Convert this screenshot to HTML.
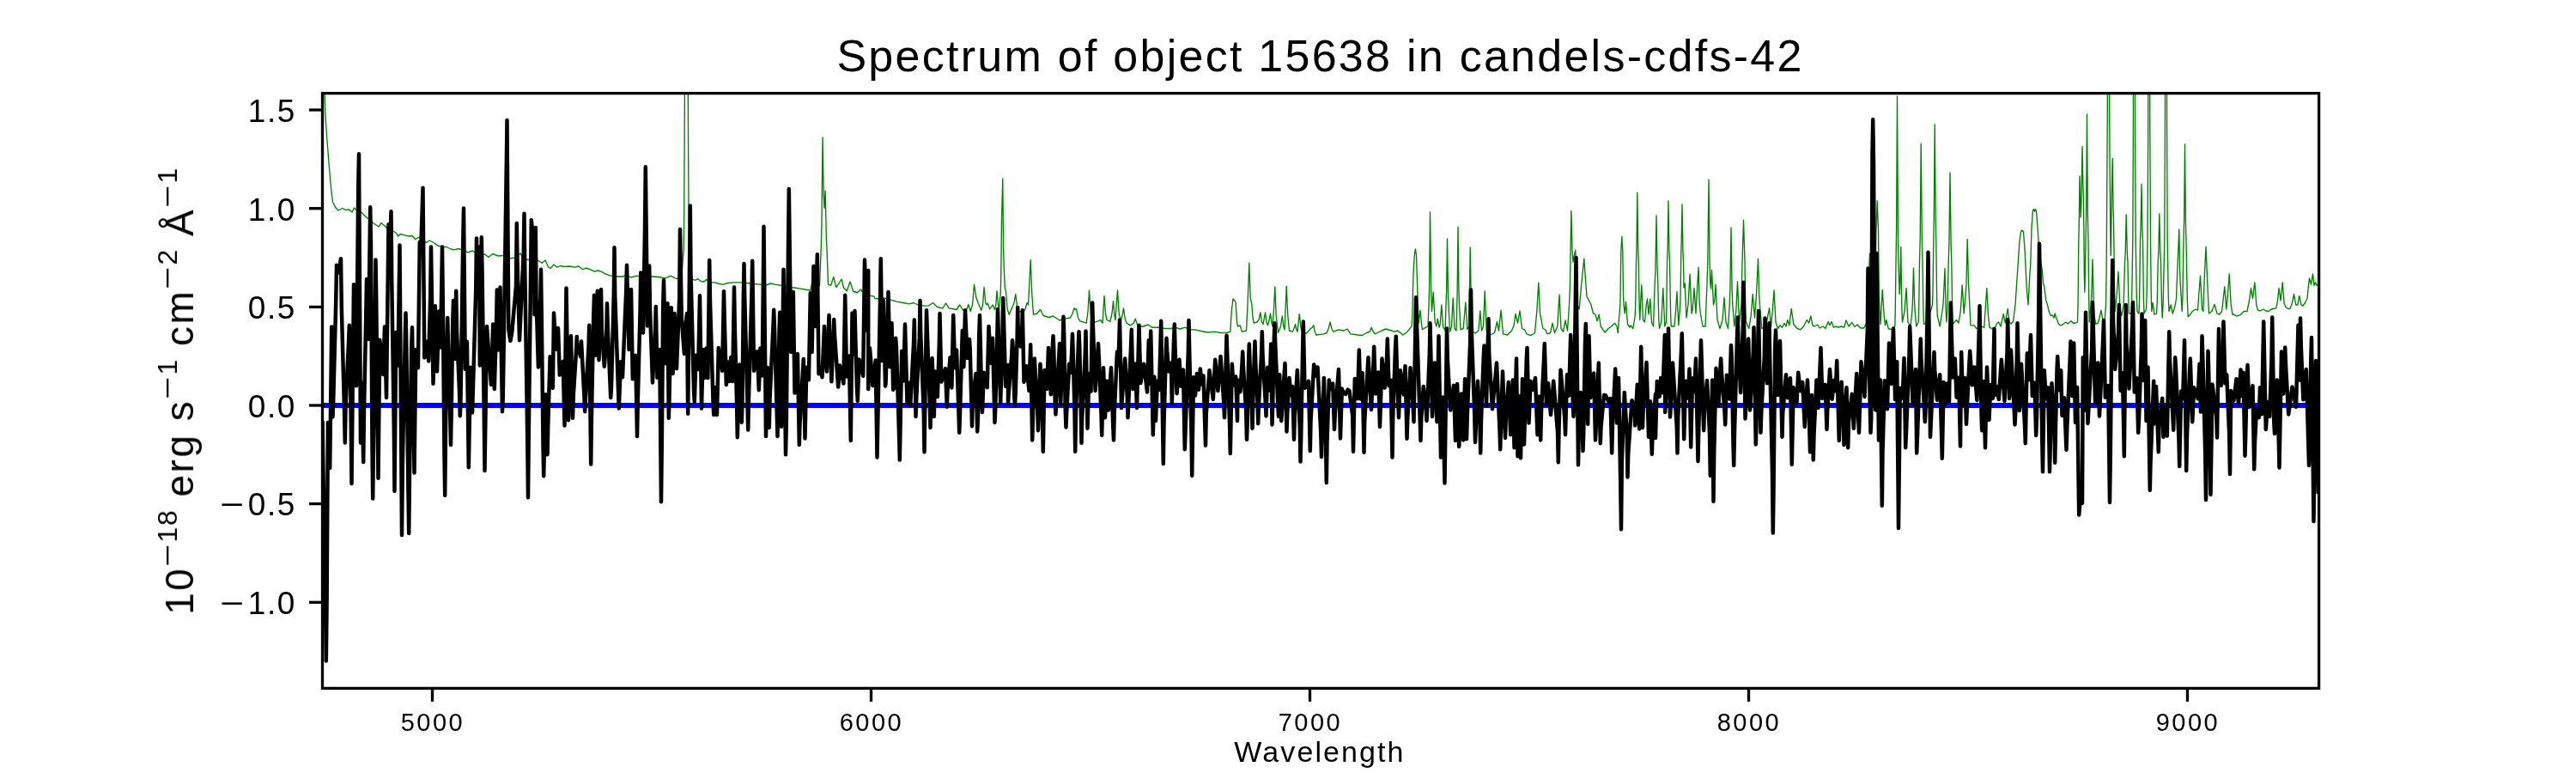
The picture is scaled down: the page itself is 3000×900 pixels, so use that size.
<!DOCTYPE html><html><head><meta charset="utf-8"><title>Spectrum of object 15638 in candels-cdfs-42</title><style>
html,body{margin:0;padding:0;background:#fff}
body{width:3000px;height:900px;position:relative;overflow:hidden;font-family:"Liberation Sans",sans-serif;color:#000}
.t{position:absolute;white-space:nowrap;line-height:1;will-change:transform}
.xt{font-size:29px;top:827px;width:200px;text-align:center;letter-spacing:2.5px}
.yt{font-size:37px;width:200px;text-align:right;letter-spacing:1.6px}
.mn{display:inline-block;width:32.5px;text-align:left;letter-spacing:0}
.mn i{display:inline-block;font-style:normal;transform:scaleX(1.3);transform-origin:0 50%}
#title{font-size:52px;left:0;width:3075px;text-align:center;top:39.4px;letter-spacing:2.26px}
#xl{font-size:34px;left:1337px;width:400px;text-align:center;top:857.5px;letter-spacing:2.1px}
#yl{font-size:46px;left:208.5px;top:454.5px;transform:translate(-50%,-50%) rotate(-90deg);transform-origin:50% 50%;letter-spacing:2.5px;word-spacing:-1px}
#yl sup{font-size:32px;vertical-align:baseline;position:relative;top:-19px;letter-spacing:1.5px}
#yl sup i{display:inline-block;font-style:normal;transform:scaleX(1.4);transform-origin:0 50%;margin-right:8px}

</style></head><body>
<svg width="3000" height="900" viewBox="0 0 3000 900" style="position:absolute;left:0;top:0">
<defs><clipPath id="c"><rect x="375.5" y="108.6" width="2325.1" height="692.8"/></clipPath></defs>
<g clip-path="url(#c)" fill="none" stroke-linejoin="round" stroke-linecap="butt">
<polyline points="378.0,103.0 378.8,133.0 380.5,158.0 382.5,183.0 384.5,208.0 386.2,225.5 387.5,235.0 390.5,241.2 393.8,245.0 398.8,242.5 402.5,244.5 406.2,243.8 410.0,247.0 412.5,242.0 416.2,245.5 421.2,247.5 426.2,252.5 431.2,256.2 435.0,260.0 438.8,262.5 441.2,263.8 443.8,259.5 447.5,262.5 451.2,266.2 457.5,268.8 461.2,271.2 463.8,275.0 466.2,272.5 471.2,273.8 476.2,275.0 480.0,274.5 483.8,278.8 487.5,276.2 492.5,278.8 496.2,282.5 500.0,280.0 505.0,282.5 510.0,286.2 515.0,287.5 520.0,287.5 525.0,290.0 528.8,290.8 533.8,289.5 538.8,291.2 545.0,293.8 550.0,292.0 555.0,295.0 561.2,295.5 565.0,296.2 568.8,299.5 573.8,295.5 580.0,298.0 586.2,297.5 592.5,301.2 600.0,300.0 606.2,295.0 608.8,301.2 615.0,302.5 621.2,301.2 627.5,303.8 631.2,306.2 635.0,303.0 638.8,311.2 641.2,312.5 645.0,308.0 648.8,311.2 652.5,309.5 657.5,310.5 663.8,310.0 668.8,311.2 673.8,310.0 678.8,313.8 682.5,312.0 687.5,313.8 692.5,316.2 696.2,315.0 700.0,316.2 705.0,318.8 711.2,321.2 717.5,322.0 725.0,322.0 730.0,320.5 735.0,323.0 741.2,321.2 747.5,322.5 755.0,322.0 762.5,322.0 770.0,323.0 775.0,323.8 781.2,321.2 787.5,324.5 793.8,323.8 796.2,290.0 796.7,250.0 797.5,90.0 801.2,90.0 802.0,250.0 802.5,290.0 803.8,325.0 810.0,326.2 812.5,324.5 816.2,327.5 820.0,328.0 822.5,325.5 827.5,328.8 832.5,328.8 837.5,330.5 842.5,331.2 847.5,329.5 855.0,328.8 862.5,328.8 870.0,329.5 877.5,330.5 885.0,331.2 892.5,332.0 897.5,330.0 902.5,331.2 910.0,332.5 917.5,334.5 925.0,335.0 932.5,336.2 940.0,337.5 943.8,338.0 946.2,327.5 948.8,315.0 951.2,325.0 954.5,332.5 956.2,290.0 956.9,264.0 958.0,160.0 959.2,226.0 960.0,242.5 961.2,222.0 962.3,276.4 963.0,290.0 964.5,331.2 967.5,332.5 970.8,322.5 973.8,334.5 976.2,331.2 980.0,325.0 982.5,335.0 986.2,338.8 990.0,328.0 993.8,339.5 998.8,340.5 1002.5,337.0 1006.2,342.5 1011.2,343.8 1017.5,345.0 1019.0,347.5 1026.5,348.0 1030.2,347.0 1036.5,348.8 1044.0,351.2 1051.5,352.5 1059.0,353.8 1064.0,352.5 1069.0,355.0 1076.5,356.2 1081.5,355.8 1086.5,352.5 1091.5,357.5 1097.8,358.8 1101.5,353.0 1105.2,358.8 1114.0,360.5 1117.8,355.0 1121.5,361.2 1125.2,362.0 1127.8,354.5 1130.2,362.5 1132.5,355.0 1134.5,331.2 1136.5,345.0 1139.0,352.5 1142.8,361.2 1144.5,355.0 1146.0,334.5 1147.8,352.5 1149.0,355.0 1150.2,353.0 1152.8,360.0 1156.0,355.0 1158.5,360.5 1159.8,355.0 1161.0,338.8 1162.5,355.0 1163.5,360.0 1165.2,342.5 1165.7,325.0 1166.5,255.0 1167.8,208.0 1168.5,285.6 1169.0,305.0 1170.2,333.8 1171.5,340.0 1173.2,360.0 1175.2,366.2 1179.0,357.5 1181.0,352.5 1182.8,342.5 1184.5,357.5 1186.0,362.5 1191.5,363.8 1194.0,360.0 1196.0,352.5 1197.5,355.0 1198.8,330.0 1200.2,302.5 1201.8,342.5 1203.5,366.2 1207.8,365.0 1211.5,360.5 1215.2,367.5 1221.5,369.5 1226.5,368.0 1234.0,373.0 1239.0,371.2 1246.5,370.0 1249.0,365.0 1251.0,358.8 1252.2,360.5 1253.5,359.5 1255.5,370.0 1257.8,373.8 1265.2,376.2 1267.0,362.5 1268.5,338.0 1270.2,365.0 1271.5,376.2 1279.0,373.8 1281.5,372.5 1284.0,376.2 1285.0,360.0 1286.0,344.5 1287.5,365.0 1289.0,372.5 1292.8,374.5 1295.0,365.0 1296.5,350.5 1298.0,367.5 1299.0,372.5 1300.2,355.0 1301.5,338.0 1303.2,365.0 1305.2,373.8 1307.0,367.5 1308.5,358.8 1310.2,371.2 1312.0,376.2 1316.5,378.8 1320.2,376.2 1322.2,371.2 1325.2,380.0 1331.5,380.0 1337.0,378.0 1341.5,381.2 1349.0,381.2 1356.5,382.5 1364.0,382.5 1369.0,381.2 1374.0,383.0 1380.2,381.2 1385.2,383.8 1391.5,383.8 1399.0,385.5 1406.5,387.0 1414.0,386.2 1421.5,387.5 1429.0,387.5 1432.8,386.2 1434.2,362.5 1436.0,348.0 1437.5,350.0 1439.0,351.2 1440.5,375.0 1441.5,380.0 1444.0,378.8 1446.5,386.2 1451.5,385.0 1453.0,355.0 1454.8,306.2 1456.2,347.5 1457.8,353.8 1459.0,370.0 1460.2,376.2 1464.0,375.0 1466.0,372.5 1467.8,363.8 1469.5,375.0 1471.0,377.5 1472.2,371.2 1473.5,363.8 1475.0,375.0 1476.5,378.8 1478.2,372.5 1479.5,365.0 1481.0,376.2 1482.0,380.0 1483.5,360.0 1484.8,333.8 1486.2,367.5 1488.5,387.5 1491.5,380.0 1493.2,368.0 1494.8,380.0 1496.0,383.8 1497.0,362.5 1498.2,333.2 1499.8,367.5 1501.5,385.0 1505.2,386.2 1507.0,382.5 1508.5,377.5 1509.8,383.8 1511.0,386.2 1512.0,377.5 1513.2,365.5 1514.8,380.0 1516.5,387.5 1521.5,388.0 1526.5,382.5 1528.2,381.2 1529.8,378.8 1531.2,386.2 1532.8,390.0 1541.5,388.8 1545.2,387.5 1547.2,382.5 1549.0,375.0 1550.8,382.5 1552.8,386.2 1559.0,383.8 1565.2,385.0 1569.0,383.0 1572.8,388.8 1581.5,390.0 1586.5,390.5 1591.5,387.5 1595.2,386.2 1597.2,381.2 1599.2,386.2 1601.5,388.8 1609.0,385.0 1614.0,383.0 1619.0,384.5 1624.0,386.2 1627.8,385.0 1634.0,390.0 1639.0,386.2 1644.0,380.0 1644.8,367.5 1646.0,317.5 1647.5,295.0 1648.5,290.0 1649.5,297.5 1651.0,345.0 1652.2,376.2 1654.0,361.2 1655.5,377.5 1656.5,383.8 1660.2,381.2 1663.0,380.0 1664.0,355.0 1664.6,333.4 1665.5,246.8 1666.7,339.4 1667.5,362.5 1669.2,340.0 1671.2,375.0 1673.0,380.0 1674.2,371.2 1676.0,381.2 1677.2,377.5 1678.8,355.0 1680.5,380.0 1683.0,385.0 1684.0,355.0 1684.6,339.6 1685.5,278.0 1686.4,339.6 1687.0,355.0 1688.5,386.2 1690.5,380.0 1692.2,347.0 1694.0,382.5 1696.0,385.0 1696.8,355.0 1697.2,336.9 1698.0,264.2 1698.9,336.9 1699.5,355.0 1701.0,383.8 1704.2,382.5 1706.8,352.0 1708.8,383.8 1710.5,380.0 1711.2,342.5 1711.6,331.6 1712.2,288.0 1712.9,331.6 1713.2,342.5 1714.2,385.0 1718.0,388.0 1721.8,385.0 1723.8,362.0 1725.5,385.0 1727.5,380.0 1729.2,338.8 1731.2,385.0 1735.5,390.0 1740.5,387.5 1743.5,374.5 1745.5,385.0 1748.0,361.2 1750.5,388.8 1755.5,390.0 1760.5,385.0 1763.0,378.8 1765.0,365.5 1767.5,376.2 1770.0,362.0 1772.5,382.5 1775.5,383.8 1778.0,388.8 1783.0,390.5 1787.5,387.5 1789.8,362.5 1791.8,329.2 1793.5,365.0 1794.8,371.2 1796.8,382.5 1799.8,383.8 1801.8,388.8 1805.5,387.5 1808.0,376.2 1810.5,387.5 1813.8,380.0 1816.0,343.2 1818.0,382.5 1820.5,386.2 1823.0,373.0 1825.5,385.0 1827.5,355.0 1828.4,333.1 1829.8,245.5 1831.1,293.1 1832.0,305.0 1833.0,298.8 1834.8,291.2 1836.0,342.2 1836.8,355.0 1839.2,360.0 1841.8,330.0 1844.8,301.2 1846.8,330.0 1848.0,345.0 1850.5,350.0 1853.0,355.0 1855.5,365.0 1858.0,366.2 1860.0,373.8 1862.2,366.2 1864.2,380.0 1866.8,383.8 1869.2,387.0 1873.0,382.5 1876.8,380.0 1880.5,376.2 1883.0,380.0 1884.2,387.5 1886.8,355.0 1887.1,342.5 1887.8,292.5 1888.8,275.5 1889.8,292.5 1890.5,342.5 1891.0,355.0 1892.2,365.0 1893.5,351.2 1895.5,377.5 1898.0,381.2 1899.2,378.8 1901.8,382.5 1904.2,367.5 1904.7,355.0 1905.5,305.0 1906.0,288.9 1906.8,224.2 1907.7,288.9 1908.2,305.0 1909.2,359.0 1909.8,372.5 1910.5,355.0 1911.8,331.8 1913.5,372.5 1915.5,375.0 1917.2,355.0 1918.5,348.0 1920.0,366.2 1921.8,348.0 1923.5,375.0 1925.5,380.0 1927.2,330.0 1927.9,314.2 1929.0,251.0 1930.1,314.2 1930.8,330.0 1931.8,372.0 1932.5,382.5 1934.8,375.0 1936.8,335.5 1938.8,380.0 1940.5,375.0 1940.9,361.0 1941.5,305.0 1942.1,290.8 1943.0,233.8 1943.9,290.8 1944.5,305.0 1945.6,365.0 1946.2,380.0 1950.0,380.0 1951.5,362.5 1953.0,339.5 1954.8,378.8 1956.8,355.0 1957.1,342.5 1957.8,292.5 1958.2,281.6 1959.0,238.0 1959.9,291.6 1960.5,305.0 1961.0,335.0 1962.2,330.0 1964.0,370.0 1966.0,355.0 1968.0,319.2 1970.0,365.0 1971.2,360.0 1973.0,335.5 1975.0,365.0 1976.2,342.5 1978.0,311.2 1979.2,352.2 1980.0,362.5 1983.0,380.0 1986.0,380.0 1988.0,330.0 1988.8,305.9 1990.0,209.2 1991.1,305.9 1991.8,330.0 1992.5,336.2 1993.5,314.5 1995.5,355.0 1996.8,350.0 1998.0,331.2 2000.0,372.5 2003.0,382.5 2006.0,372.5 2008.0,346.2 2010.0,375.0 2012.5,382.5 2014.2,355.0 2014.9,337.0 2016.0,265.0 2017.1,337.0 2017.8,355.0 2019.8,380.0 2021.8,362.5 2023.5,328.0 2025.5,375.0 2028.0,355.0 2029.0,305.0 2030.5,256.2 2032.0,305.0 2032.9,361.0 2033.5,375.0 2036.8,382.5 2039.2,367.5 2041.2,342.5 2043.5,370.0 2045.5,342.5 2047.5,301.2 2048.7,344.2 2049.5,355.0 2051.8,382.5 2056.8,380.0 2058.8,367.5 2060.5,358.8 2062.5,380.0 2064.2,362.5 2066.0,338.0 2068.0,375.0 2070.5,382.5 2073.0,378.8 2075.5,381.2 2078.0,376.2 2080.0,380.0 2081.8,372.5 2083.8,378.8 2086.2,359.5 2088.8,377.5 2093.0,382.5 2096.8,383.8 2100.5,380.0 2104.2,372.5 2106.8,376.2 2108.8,368.0 2111.0,378.8 2113.0,380.0 2116.8,378.0 2119.2,382.0 2123.0,380.0 2126.0,382.5 2129.2,374.5 2131.0,378.8 2133.0,374.5 2135.5,381.2 2138.0,380.0 2141.0,381.2 2144.2,380.0 2147.5,381.2 2150.0,373.0 2153.0,380.0 2156.8,375.5 2160.0,380.5 2163.0,378.0 2166.8,382.0 2170.5,382.0 2174.2,375.0 2176.0,330.0 2177.5,295.0 2179.2,342.5 2181.8,375.0 2183.8,330.0 2184.2,317.5 2185.0,267.5 2186.2,233.8 2187.5,267.5 2188.3,337.5 2188.8,355.0 2190.0,377.5 2192.2,337.5 2194.2,367.5 2195.5,378.8 2196.8,372.5 2199.2,382.5 2203.0,383.8 2206.8,380.0 2207.2,365.0 2208.0,305.0 2208.6,266.4 2209.5,112.0 2210.4,266.4 2211.0,305.0 2212.2,342.5 2212.8,331.5 2213.8,287.5 2214.8,357.5 2215.5,375.0 2218.0,362.5 2220.0,335.5 2222.0,375.0 2225.0,380.0 2226.8,362.5 2227.4,352.4 2228.5,312.0 2229.6,352.4 2230.2,362.5 2231.8,380.0 2234.2,375.0 2234.7,361.0 2235.5,305.0 2236.2,277.4 2237.2,167.2 2238.3,277.4 2239.0,305.0 2239.9,363.0 2240.5,377.5 2244.2,375.0 2250.5,355.0 2251.0,340.0 2251.8,280.0 2252.3,252.9 2253.2,144.8 2254.2,252.9 2254.8,280.0 2255.7,350.0 2256.2,367.5 2259.2,380.0 2263.0,355.0 2265.0,312.5 2266.2,362.5 2267.0,375.0 2267.9,361.0 2269.2,305.0 2269.9,284.2 2271.0,201.0 2272.1,284.2 2272.8,305.0 2273.7,363.0 2274.2,377.5 2276.0,375.0 2278.5,372.5 2281.0,376.2 2283.2,362.5 2285.2,332.0 2287.2,365.0 2289.2,342.5 2290.0,329.7 2291.2,278.5 2292.5,329.7 2293.2,342.5 2295.0,378.8 2299.2,378.8 2301.8,382.5 2307.0,380.0 2310.8,381.2 2312.0,362.5 2313.8,335.5 2315.5,367.5 2317.0,381.2 2319.5,382.5 2323.2,381.2 2325.8,376.2 2327.5,375.0 2330.0,380.0 2333.2,365.5 2335.2,376.2 2337.0,366.2 2338.2,359.5 2340.0,375.0 2342.0,377.0 2344.5,374.5 2347.0,355.0 2349.5,317.5 2352.0,280.0 2353.5,270.0 2355.0,268.0 2356.5,270.0 2358.2,292.5 2360.2,335.0 2362.0,355.0 2364.0,317.5 2364.8,307.0 2366.0,265.0 2367.5,245.0 2368.5,243.5 2369.5,246.2 2370.5,243.5 2371.5,246.2 2373.0,265.0 2375.0,295.0 2378.2,313.8 2379.5,330.0 2380.8,333.8 2382.8,350.0 2384.5,355.0 2386.5,363.8 2388.2,367.5 2390.2,367.0 2392.0,370.0 2393.2,365.0 2394.5,370.0 2395.8,372.5 2397.5,377.5 2399.5,378.8 2402.0,378.0 2405.8,375.0 2408.2,377.0 2412.0,373.8 2414.5,376.2 2417.0,376.2 2419.5,375.0 2420.0,356.0 2420.8,280.0 2421.2,265.0 2422.0,205.0 2423.2,253.0 2423.9,236.5 2425.0,170.5 2425.9,218.1 2426.5,230.0 2427.3,318.0 2427.8,340.0 2428.2,328.0 2429.0,280.0 2429.6,250.6 2430.5,133.0 2431.4,250.6 2432.0,280.0 2432.8,356.0 2433.2,375.0 2435.0,355.0 2435.8,344.4 2437.0,302.0 2438.2,354.4 2439.0,367.5 2440.8,377.5 2443.2,376.2 2445.0,370.0 2447.0,361.2 2448.8,372.5 2450.8,378.8 2452.5,355.0 2453.1,320.0 2454.0,180.0 2454.6,70.0 2455.5,-370.0 2456.4,70.0 2457.0,180.0 2457.8,274.0 2458.2,297.5 2458.6,284.0 2459.2,230.0 2460.2,184.2 2461.0,240.8 2461.5,255.0 2462.6,341.0 2463.2,362.5 2465.2,342.5 2467.0,316.2 2469.0,360.0 2470.8,367.5 2473.2,355.0 2474.5,305.0 2475.2,294.0 2476.2,250.0 2477.3,294.0 2478.0,305.0 2478.9,353.0 2479.5,365.0 2482.0,365.0 2482.7,348.0 2483.8,280.0 2484.4,150.0 2485.5,-370.0 2486.6,150.0 2487.2,280.0 2488.3,346.0 2489.0,362.5 2491.0,365.0 2491.6,348.0 2492.5,280.0 2493.1,266.9 2494.0,214.2 2494.9,266.9 2495.5,280.0 2496.4,348.0 2497.0,365.0 2499.5,360.0 2500.1,344.0 2501.0,280.0 2501.7,150.0 2502.8,-370.0 2503.8,150.0 2504.5,280.0 2505.3,346.0 2505.8,362.5 2507.0,352.5 2509.0,366.2 2511.5,365.0 2512.2,353.0 2513.2,305.0 2513.8,293.8 2514.8,248.8 2515.8,293.8 2516.5,305.0 2517.6,357.0 2518.2,370.0 2519.2,352.0 2520.8,280.0 2521.4,150.0 2522.5,-370.0 2523.6,150.0 2524.2,280.0 2525.3,346.0 2526.0,362.5 2528.2,355.0 2530.2,365.0 2532.0,360.0 2533.2,355.0 2534.5,347.5 2536.2,305.0 2537.8,266.8 2538.7,317.4 2539.2,330.0 2541.2,362.5 2541.9,346.0 2543.0,280.0 2543.6,257.6 2544.5,168.0 2545.4,257.6 2546.0,280.0 2547.4,351.0 2548.2,368.8 2550.8,366.2 2553.2,362.5 2557.0,360.0 2559.5,361.2 2560.8,342.5 2562.5,321.2 2564.5,360.0 2565.8,362.5 2567.5,317.5 2569.0,287.5 2570.8,330.0 2572.5,365.0 2575.8,362.5 2579.0,354.5 2582.0,365.0 2584.5,366.2 2587.5,362.5 2589.0,350.0 2590.8,333.8 2592.8,360.0 2594.5,342.5 2596.2,318.8 2598.2,355.0 2600.0,366.2 2602.0,366.2 2604.5,368.0 2607.0,367.5 2609.5,366.2 2613.2,362.5 2617.0,362.5 2619.5,350.0 2621.5,335.5 2623.5,347.5 2625.8,328.8 2627.8,355.0 2629.5,361.2 2632.0,362.0 2635.8,360.0 2639.0,362.0 2642.0,362.5 2644.5,360.5 2647.0,359.5 2650.8,358.8 2652.5,350.0 2654.0,335.5 2656.0,350.0 2658.2,328.8 2660.2,353.8 2662.0,357.5 2664.5,359.5 2667.0,359.5 2669.5,352.5 2671.5,342.5 2673.8,355.0 2675.8,355.0 2677.8,344.5 2680.0,355.0 2682.0,356.2 2684.5,352.5 2687.0,347.5 2688.2,335.0 2689.5,323.8 2691.5,331.2 2693.5,318.8 2695.0,332.5 2696.5,328.8 2698.2,332.5 2700.2,330.0" stroke="#008000" stroke-width="1.35"/>
<line x1="375.5" y1="472.0" x2="2700.6" y2="472.0" stroke="#0000ff" stroke-width="6"/>
<polyline points="375.5,490.0 379.1,710.8 379.8,769.5 380.6,699.9 381.9,491.9 382.6,518.0 384.2,545.0 386.2,380.5 387.5,485.5 388.2,467.2 391.2,351.7 392.0,308.8 394.5,317.5 397.0,301.2 397.8,357.9 401.0,477.5 401.8,515.5 402.5,474.8 406.0,398.6 406.8,378.8 407.5,394.1 408.8,495.1 409.5,563.0 412.0,331.2 412.8,379.5 415.0,449.2 417.2,220.7 418.0,179.2 420.0,515.5 421.6,445.5 423.2,538.0 424.0,476.9 426.2,370.3 427.0,325.0 429.1,395.0 431.2,241.2 432.0,284.6 433.5,522.6 434.2,580.5 435.0,514.9 436.8,367.3 437.5,302.5 438.2,347.5 439.8,499.7 440.5,556.8 442.3,395.7 446.2,436.1 448.0,380.5 450.0,463.0 452.5,261.2 454.0,290.0 455.5,246.2 456.2,323.3 458.8,499.4 459.5,571.8 461.2,387.0 463.4,425.4 465.5,285.5 468.0,623.0 468.8,543.0 471.8,391.7 472.5,364.5 473.2,395.6 475.5,574.3 476.2,621.0 477.0,551.0 479.2,403.4 480.0,381.2 482.5,550.5 484.3,407.0 486.9,428.2 488.8,282.0 490.2,290.0 492.5,218.8 494.3,416.5 497.4,397.8 499.2,420.5 501.2,344.0 502.0,287.5 504.5,446.8 506.8,356.2 509.0,432.5 511.2,362.5 513.1,404.6 515.0,287.5 515.8,352.7 517.5,530.2 518.2,576.8 519.0,499.6 520.5,403.1 521.2,370.0 522.0,403.0 524.2,481.5 525.0,518.0 525.8,474.7 527.2,376.8 528.0,350.0 529.6,417.8 531.2,338.8 532.0,385.5 535.0,454.8 535.8,484.2 536.5,463.7 539.2,283.7 540.0,242.5 541.8,429.8 543.9,398.1 545.8,544.2 547.9,427.8 550.0,480.5 550.8,456.3 554.2,337.6 555.0,277.5 555.8,347.1 557.0,346.9 557.8,297.5 558.2,287.5 558.8,425.5 560.8,276.2 561.5,314.0 563.8,485.8 564.5,548.0 567.0,380.0 567.8,391.3 572.0,448.0 574.2,377.5 575.8,453.0 578.0,379.3 578.8,337.5 580.6,407.5 582.5,334.5 585.0,479.2 585.8,461.5 589.8,192.6 590.5,140.0 592.3,383.5 594.4,396.9 596.2,387.5 601.0,333.0 601.8,260.0 602.5,303.8 605.0,396.2 609.8,292.9 610.5,248.8 611.2,309.5 614.2,509.2 615.0,579.2 615.8,504.0 618.0,324.8 618.8,256.2 621.2,280.0 621.9,270.0 622.5,366.2 623.8,265.0 624.5,345.1 626.9,427.5 629.2,355.6 630.0,313.8 630.8,370.0 632.5,517.7 633.2,554.2 635.4,459.2 637.5,529.2 638.2,497.4 640.6,415.3 643.8,451.8 645.0,364.5 647.5,406.7 650.0,382.0 651.8,436.6 655.7,420.9 657.5,495.5 659.5,335.5 662.0,489.2 662.8,465.4 664.2,404.7 665.0,391.2 667.0,486.8 667.8,460.7 671.0,409.1 671.8,392.0 672.5,407.8 674.4,408.2 676.2,415.3 677.0,397.5 677.8,412.3 680.5,463.2 681.2,479.2 682.0,462.3 685.5,404.1 686.2,378.8 688.2,540.5 689.0,482.5 691.2,369.9 692.0,343.8 693.9,413.8 695.8,338.8 697.5,419.2 700.0,337.0 700.8,382.6 703.8,426.8 706.2,391.8 707.0,353.2 707.8,382.3 710.5,446.7 711.2,463.0 712.0,451.0 714.8,344.2 715.5,288.2 716.2,342.8 720.0,453.6 720.8,475.5 722.9,421.3 725.0,439.2 729.2,339.2 730.0,308.8 732.5,407.0 735.0,337.0 736.8,441.3 740.2,413.8 742.0,508.0 742.8,466.7 745.5,363.7 746.2,317.5 747.0,359.7 749.0,387.5 751.0,267.8 751.8,194.2 754.0,379.5 756.2,309.5 757.0,360.7 760.0,445.4 763.0,386.8 763.8,357.0 765.5,439.8 768.2,406.9 770.0,584.2 770.8,515.7 772.2,355.3 773.0,326.2 775.2,423.2 777.5,353.2 778.8,486.8 779.5,463.9 781.0,385.1 781.8,358.2 783.6,435.0 785.5,365.0 788.0,429.2 791.2,347.6 792.0,267.0 793.8,371.0 796.9,411.9 798.8,375.0 800.0,365.0 801.2,481.8 803.8,239.5 804.5,318.6 808.0,453.2 808.8,468.0 810.5,413.7 813.2,430.1 815.0,344.2 817.0,475.5 818.8,407.1 820.7,440.0 822.6,405.5 824.4,440.1 826.2,303.0 827.0,352.1 830.5,467.2 831.2,483.0 833.1,451.2 835.0,483.0 836.8,405.0 841.2,431.7 843.0,339.2 843.8,373.3 845.8,448.0 847.5,421.6 849.4,444.0 851.3,415.9 853.2,444.0 855.0,334.5 855.8,381.2 858.0,467.5 858.8,509.2 861.2,424.6 863.8,491.8 864.5,467.3 865.8,349.3 866.5,307.0 867.2,344.7 870.5,468.9 871.2,500.5 872.0,462.3 875.5,339.2 876.2,303.8 878.0,431.7 881.9,409.2 883.8,454.2 885.5,405.5 887.7,437.6 889.5,263.8 892.0,508.0 893.9,428.0 895.8,498.0 896.5,465.3 900.5,378.9 901.2,360.8 902.0,382.5 904.8,483.4 905.5,508.0 906.2,472.7 907.5,386.9 908.2,363.8 910.0,496.8 912.5,313.8 915.0,529.2 915.8,494.3 918.0,285.4 918.8,220.0 921.2,410.0 923.8,340.0 925.5,457.5 928.9,412.1 930.8,518.0 931.5,493.9 935.8,418.0 937.5,510.5 939.3,427.8 941.9,442.2 943.8,341.2 945.6,409.9 947.5,310.0 949.6,380.0 951.8,296.2 953.5,435.2 955.7,427.6 957.5,439.2 960.0,380.0 960.8,405.7 962.8,432.6 964.8,384.9 965.5,367.0 966.2,392.2 968.4,444.3 970.5,391.0 971.2,372.0 972.0,390.1 976.2,450.5 978.0,425.6 982.4,446.5 984.2,343.8 986.0,438.4 988.9,414.6 990.8,513.0 992.5,364.5 994.0,412.5 995.5,362.0 996.2,390.8 998.0,453.2 998.8,466.8 1000.5,418.4 1005.2,437.7 1007.0,302.5 1009.1,385.0 1011.2,315.0 1011.2,453.0 1013.0,405.3 1016.4,449.0 1019.7,419.6 1021.5,532.5 1022.2,495.4 1025.0,350.1 1025.8,301.2 1027.4,420.0 1029.0,350.0 1031.0,449.5 1031.2,416.9 1031.5,447.5 1033.8,377.9 1034.5,340.0 1036.5,427.2 1038.5,376.2 1040.2,453.8 1040.6,442.5 1041.0,452.5 1043.2,393.8 1044.0,405.8 1047.0,504.4 1047.8,535.5 1050.2,408.8 1052.1,443.5 1054.0,377.5 1056.5,470.0 1060.2,445.0 1060.2,472.5 1061.0,456.9 1064.0,400.8 1064.8,372.5 1066.5,485.0 1067.2,465.0 1070.8,393.9 1071.5,350.0 1072.2,387.6 1075.8,480.9 1076.5,526.2 1079.0,361.2 1079.8,385.5 1082.8,469.3 1083.5,498.0 1085.6,417.1 1087.8,485.0 1089.0,432.5 1091.8,462.1 1093.8,401.0 1094.5,365.0 1096.3,444.5 1101.0,429.1 1102.8,473.8 1103.5,454.6 1106.5,416.2 1108.4,451.4 1110.2,367.0 1112.1,428.3 1114.0,407.5 1116.5,480.8 1117.2,503.8 1118.0,480.8 1120.0,412.8 1120.8,385.0 1122.4,427.3 1124.0,361.2 1126.5,416.8 1129.0,395.0 1129.8,408.7 1131.2,464.2 1132.0,496.2 1132.8,466.1 1136.5,435.0 1138.2,502.5 1139.0,483.9 1140.2,390.0 1141.0,367.0 1141.8,400.4 1143.2,466.4 1144.0,480.0 1145.8,433.8 1149.7,451.1 1151.5,380.0 1153.8,422.8 1156.0,393.8 1158.5,492.0 1159.2,476.3 1161.2,398.2 1162.0,360.0 1162.8,388.8 1165.2,468.8 1167.5,390.7 1168.2,347.0 1169.0,372.8 1171.1,449.7 1174.0,425.0 1174.0,470.0 1174.8,456.7 1178.2,413.6 1179.0,396.2 1179.8,406.0 1181.2,460.5 1182.0,472.5 1182.8,454.9 1184.5,398.0 1185.2,358.0 1186.0,399.3 1187.2,397.4 1188.0,382.5 1188.8,403.5 1190.0,396.8 1190.8,361.2 1192.5,444.7 1195.5,426.2 1198.5,455.1 1200.2,401.2 1202.2,512.5 1204.8,417.5 1208.2,477.5 1209.0,501.2 1211.5,423.8 1214.0,487.6 1214.8,525.8 1216.5,430.9 1219.2,452.8 1221.0,405.0 1221.8,416.1 1223.8,459.3 1225.8,404.3 1226.5,391.2 1227.2,404.8 1228.8,471.0 1229.5,482.5 1230.2,464.3 1233.2,415.8 1234.0,400.0 1235.2,471.2 1237.8,398.6 1238.5,368.8 1239.2,389.6 1240.8,479.9 1241.5,497.5 1242.2,479.6 1245.2,423.8 1247.1,433.8 1249.0,388.8 1249.8,414.7 1251.5,479.4 1252.2,525.8 1253.0,481.0 1255.8,401.6 1256.5,386.2 1257.2,401.1 1258.8,475.3 1259.5,515.8 1260.2,486.4 1263.8,411.6 1264.5,385.5 1266.5,498.8 1268.3,434.9 1270.5,455.8 1272.2,352.5 1273.0,382.9 1275.6,454.9 1278.2,415.8 1279.0,400.0 1279.8,416.4 1282.5,481.9 1283.2,506.8 1285.1,428.3 1287.0,486.2 1289.0,443.8 1291.0,477.5 1291.8,462.1 1294.0,428.2 1296.2,494.5 1297.0,512.5 1297.8,479.9 1301.0,409.5 1302.5,425.4 1304.0,372.5 1306.0,475.0 1310.2,417.5 1312.8,462.6 1313.5,486.2 1314.2,472.0 1317.0,405.1 1317.8,383.8 1319.5,452.9 1322.2,423.5 1324.0,475.0 1326.5,378.8 1328.3,446.0 1332.1,423.7 1336.0,456.5 1337.8,396.2 1339.0,446.8 1340.2,385.5 1342.8,506.2 1344.4,438.7 1346.0,490.0 1347.8,443.8 1350.0,453.8 1352.2,373.8 1354.8,540.0 1355.5,493.9 1357.8,411.8 1358.5,393.8 1359.2,408.7 1361.2,432.5 1364.0,422.5 1364.8,470.0 1367.0,397.2 1367.8,377.5 1368.5,404.1 1370.6,458.2 1373.5,418.8 1375.3,449.7 1378.0,430.5 1379.8,523.2 1380.5,503.2 1383.8,410.7 1384.5,373.0 1385.2,408.7 1387.5,504.2 1388.2,553.8 1390.0,439.3 1392.0,460.4 1394.0,434.9 1396.0,453.7 1397.8,429.5 1399.6,447.5 1401.5,437.5 1404.0,518.8 1404.8,480.9 1408.5,431.2 1412.8,465.0 1415.2,418.8 1418.4,455.1 1421.5,415.0 1425.2,467.4 1426.0,486.2 1428.5,390.8 1429.2,410.7 1432.0,492.1 1432.8,528.0 1434.8,423.8 1436.5,448.4 1439.2,438.5 1441.0,490.0 1441.5,442.5 1444.4,456.2 1446.5,423.6 1447.2,409.5 1448.0,428.6 1451.2,478.5 1452.0,511.8 1452.8,489.6 1454.0,423.3 1454.8,400.5 1455.5,421.1 1457.8,472.0 1458.5,498.8 1459.2,471.3 1460.8,414.3 1461.5,397.5 1462.2,421.0 1464.5,467.3 1465.2,493.2 1466.0,470.1 1469.0,413.3 1469.8,386.2 1470.5,413.2 1473.8,468.7 1474.5,484.5 1476.3,427.8 1478.5,454.4 1480.2,400.5 1481.5,494.5 1482.2,470.3 1483.8,394.5 1484.5,376.2 1485.2,400.0 1488.2,469.1 1489.0,485.0 1490.2,436.2 1492.2,490.0 1493.0,478.6 1496.5,423.0 1498.5,502.5 1499.2,482.2 1501.5,440.0 1503.4,460.0 1505.2,450.0 1507.0,511.8 1507.8,483.1 1510.8,431.1 1513.8,498.2 1514.5,537.5 1515.2,508.7 1517.0,413.3 1517.8,374.5 1519.5,451.8 1524.0,443.9 1525.8,525.0 1526.5,490.0 1530.2,424.5 1532.4,437.5 1534.5,427.5 1538.2,503.1 1539.0,532.0 1539.8,495.1 1541.9,439.9 1544.0,514.6 1544.8,562.0 1545.5,515.8 1547.8,442.5 1549.5,453.4 1552.2,446.5 1554.0,500.0 1554.8,481.5 1559.0,430.0 1561.0,510.5 1562.8,452.5 1564.5,457.2 1567.1,459.0 1569.7,453.7 1571.5,455.0 1575.2,483.9 1576.0,525.8 1577.8,441.1 1581.0,464.3 1582.8,407.5 1584.5,464.4 1586.7,434.2 1588.5,526.8 1589.2,491.2 1593.5,416.2 1597.0,477.0 1599.5,423.2 1600.2,403.8 1602.0,458.4 1605.2,433.6 1607.0,497.0 1609.5,417.5 1612.6,451.5 1615.0,419.1 1615.8,394.5 1617.5,449.3 1619.7,442.6 1621.5,532.5 1622.2,485.5 1625.0,405.8 1625.8,391.8 1626.5,415.5 1628.2,467.5 1629.0,486.2 1630.8,431.2 1634.7,459.4 1636.5,426.2 1638.5,510.8 1639.2,489.1 1642.5,428.2 1645.8,474.7 1646.5,491.2 1649.0,346.2 1649.8,372.8 1653.8,491.9 1654.5,513.0 1655.2,488.2 1657.8,450.0 1660.8,477.4 1661.5,490.0 1662.2,475.3 1664.8,412.9 1665.5,376.2 1668.0,485.0 1668.8,469.1 1670.8,422.5 1672.8,472.9 1673.5,491.2 1675.5,391.2 1678.0,532.5 1680.2,462.5 1682.5,562.5 1685.0,382.5 1685.8,417.8 1689.2,477.5 1693.0,448.8 1695.0,513.0 1697.1,447.1 1699.2,520.0 1701.8,458.4 1704.2,512.5 1706.1,441.2 1708.0,511.2 1708.8,484.2 1712.2,397.6 1713.0,337.5 1713.8,385.9 1717.2,481.7 1718.0,515.0 1718.8,496.6 1721.0,443.8 1723.5,492.6 1724.2,527.5 1725.0,488.7 1727.8,414.4 1728.5,402.5 1731.0,472.5 1733.5,371.2 1734.2,412.0 1738.0,476.2 1743.0,422.5 1746.5,501.0 1747.2,523.2 1748.0,494.0 1750.0,432.5 1752.2,492.1 1753.0,510.0 1753.8,486.3 1756.8,445.0 1759.2,506.2 1761.8,442.5 1763.5,521.2 1766.0,417.5 1767.5,531.2 1769.2,461.2 1771.0,533.2 1773.0,441.2 1775.0,517.5 1775.8,488.7 1777.8,417.3 1778.5,405.0 1780.5,492.5 1782.5,443.8 1785.2,453.8 1788.0,440.0 1790.5,506.2 1792.4,461.8 1794.2,512.5 1795.0,479.1 1798.0,418.8 1798.8,400.0 1800.9,471.6 1803.0,446.2 1806.0,483.0 1809.2,443.8 1814.0,502.8 1814.8,538.2 1815.5,501.0 1817.5,430.8 1822.2,485.5 1823.0,506.2 1825.0,436.2 1827.1,460.8 1829.2,390.0 1830.0,409.5 1831.8,468.2 1832.5,485.0 1833.2,469.2 1834.8,349.3 1835.5,300.0 1838.0,541.2 1838.8,497.6 1840.8,456.9 1842.8,498.1 1843.5,525.0 1844.2,504.9 1846.0,399.4 1846.8,377.0 1849.2,493.8 1850.5,391.2 1852.3,463.1 1856.2,434.4 1858.0,512.5 1858.8,496.0 1861.8,422.5 1863.8,516.2 1864.5,497.1 1868.0,460.0 1869.8,460.2 1871.7,464.0 1873.6,467.9 1875.5,464.0 1877.2,527.5 1878.0,492.8 1881.2,429.5 1883.0,492.5 1885.0,440.0 1887.2,561.2 1888.0,616.2 1888.8,538.4 1891.8,457.0 1894.8,508.0 1895.5,555.5 1896.2,528.9 1900.5,466.2 1903.5,472.1 1904.2,495.5 1906.8,447.8 1909.2,499.5 1911.2,403.8 1913.0,498.0 1913.8,473.4 1917.5,422.0 1920.0,508.8 1921.9,467.3 1923.8,528.8 1924.5,508.0 1928.0,458.8 1928.0,510.0 1929.8,444.0 1932.5,461.9 1934.2,440.0 1936.5,457.3 1938.8,390.0 1939.2,480.0 1942.2,417.7 1943.0,382.5 1945.0,485.5 1945.8,472.0 1948.0,422.5 1952.8,497.3 1953.5,527.5 1954.2,485.8 1958.0,408.7 1958.8,388.2 1961.2,511.2 1963.0,443.7 1965.7,463.6 1967.5,429.5 1969.2,520.5 1971.0,440.2 1973.2,456.3 1975.0,417.5 1977.5,537.0 1978.2,502.6 1980.2,426.7 1981.0,396.2 1981.8,423.0 1983.5,483.1 1984.2,501.2 1985.0,475.9 1988.0,442.9 1991.0,504.9 1991.8,553.8 1994.2,442.5 1995.5,583.8 1996.2,528.2 1998.5,428.8 2001.4,472.6 2003.5,428.2 2004.2,417.5 2005.0,434.0 2008.5,479.0 2009.2,494.5 2011.0,436.7 2014.2,464.6 2016.0,402.0 2016.8,417.4 2018.5,517.2 2019.2,542.0 2020.0,503.8 2023.0,392.5 2023.8,369.5 2024.5,400.2 2027.1,457.1 2029.8,382.6 2030.5,328.8 2032.5,487.5 2033.2,472.5 2035.5,412.0 2036.2,394.5 2038.0,477.5 2041.8,409.6 2042.5,381.2 2044.8,517.5 2045.5,491.7 2047.2,404.1 2048.0,362.0 2050.5,503.8 2051.2,481.2 2054.8,415.5 2055.5,370.5 2058.0,446.2 2060.5,376.2 2061.2,417.9 2064.0,550.0 2064.8,620.5 2065.5,572.3 2067.2,404.6 2068.0,384.5 2070.5,460.0 2073.0,397.0 2075.5,508.8 2076.2,481.3 2080.0,436.2 2081.8,463.2 2085.0,440.2 2086.8,540.8 2088.6,451.1 2092.5,469.2 2094.2,433.8 2096.8,455.0 2099.2,445.0 2101.8,497.0 2102.5,477.1 2105.0,442.5 2107.2,494.9 2108.0,526.2 2109.9,460.0 2111.8,535.5 2112.5,506.6 2115.5,442.5 2117.5,475.0 2119.8,421.3 2120.5,405.0 2122.3,463.9 2125.7,447.9 2127.5,500.0 2128.2,478.6 2131.0,430.0 2133.6,464.7 2136.2,442.5 2137.8,455.2 2139.2,420.0 2141.8,513.0 2142.5,489.1 2144.6,444.7 2146.8,491.6 2147.5,518.0 2148.2,490.8 2150.5,451.2 2152.2,521.2 2153.0,490.2 2156.8,458.8 2158.8,498.8 2159.5,485.6 2162.2,435.0 2164.2,487.4 2165.0,503.8 2167.5,421.2 2171.5,461.9 2174.8,385.3 2175.5,312.5 2176.2,382.7 2177.8,473.9 2178.5,503.8 2179.2,488.5 2180.5,179.5 2181.2,139.2 2182.0,188.9 2183.5,464.1 2184.2,477.5 2185.5,295.0 2188.0,512.5 2189.9,442.5 2191.8,588.8 2192.5,526.5 2194.9,443.3 2198.0,476.2 2200.0,399.5 2202.5,446.9 2205.0,382.5 2207.1,465.2 2209.2,421.2 2211.0,615.0 2212.8,452.1 2215.7,463.4 2217.5,417.0 2219.2,521.2 2220.0,503.5 2223.5,412.0 2224.2,380.0 2225.0,401.1 2227.6,470.9 2231.0,430.0 2232.2,527.5 2233.0,507.3 2236.0,420.5 2236.8,394.5 2237.5,418.3 2241.0,474.2 2241.8,491.2 2242.5,477.2 2244.8,352.8 2245.5,293.8 2248.0,508.8 2248.8,491.3 2251.8,425.1 2252.5,410.0 2253.2,430.2 2255.9,465.7 2259.2,436.2 2261.8,533.8 2263.6,444.9 2265.7,469.6 2267.8,446.6 2270.0,468.0 2271.8,352.5 2274.2,439.4 2276.8,417.5 2278.6,462.7 2281.2,439.7 2283.0,519.5 2284.2,410.0 2286.1,471.2 2288.2,440.1 2290.0,493.8 2290.8,474.6 2293.5,421.1 2294.2,408.8 2296.8,448.3 2299.2,427.5 2302.4,465.9 2304.8,384.4 2305.5,356.2 2306.2,404.7 2307.5,480.9 2308.2,501.2 2310.1,443.9 2312.0,521.2 2314.0,427.5 2316.5,488.8 2318.3,448.0 2320.7,463.9 2322.5,383.0 2323.2,460.0 2325.5,450.0 2327.8,465.0 2330.8,418.8 2334.5,466.9 2337.5,410.6 2338.2,372.0 2340.1,463.9 2342.0,407.5 2342.8,422.5 2345.8,479.4 2346.5,494.5 2347.2,481.4 2348.8,415.0 2349.5,376.2 2351.8,478.1 2354.0,423.8 2358.0,494.2 2358.8,516.2 2360.8,411.2 2362.9,442.3 2365.0,390.0 2366.8,461.0 2369.5,445.7 2371.2,507.0 2372.0,483.8 2374.2,365.8 2375.0,283.8 2375.8,335.9 2378.2,510.9 2379.0,549.2 2380.8,431.2 2382.6,464.1 2385.2,451.3 2387.0,549.2 2389.5,446.2 2392.5,501.1 2393.2,538.8 2394.0,496.9 2395.5,431.7 2396.2,415.0 2398.2,454.2 2400.2,431.2 2401.5,483.8 2404.0,463.3 2406.5,523.8 2407.2,499.6 2410.8,415.5 2411.5,397.5 2413.4,461.1 2415.2,399.5 2417.0,492.0 2419.1,451.0 2421.2,599.5 2423.2,576.2 2425.0,585.8 2425.8,416.2 2427.4,478.0 2429.0,363.8 2431.5,493.0 2436.2,406.6 2437.0,352.0 2437.8,381.1 2440.1,469.9 2443.2,422.5 2445.0,484.5 2449.2,395.0 2450.0,373.0 2451.8,462.6 2455.2,449.1 2457.0,585.0 2457.8,529.7 2459.5,362.3 2460.2,303.0 2461.0,371.3 2463.2,430.0 2467.0,387.7 2467.8,355.0 2469.6,454.8 2472.0,434.3 2473.8,531.2 2475.8,355.0 2476.5,401.1 2479.5,452.5 2483.2,379.5 2484.0,352.0 2485.8,456.5 2488.5,440.1 2490.2,503.8 2491.0,488.5 2493.8,406.5 2494.5,365.5 2496.4,443.0 2498.2,373.0 2499.5,490.0 2501.5,427.5 2503.8,570.8 2504.5,539.8 2508.2,443.8 2508.2,493.8 2511.0,449.9 2513.0,503.8 2513.8,526.2 2514.5,495.5 2518.2,463.8 2519.5,508.8 2521.6,474.5 2523.8,507.5 2526.2,386.2 2527.0,419.9 2530.5,486.8 2531.2,500.8 2533.2,416.2 2534.0,428.6 2537.5,513.2 2538.2,543.0 2540.1,455.5 2542.2,464.2 2544.0,396.2 2546.2,548.0 2547.0,506.8 2550.0,432.7 2550.8,417.5 2553.2,491.2 2555.1,451.3 2559.7,464.3 2561.5,423.8 2563.0,479.4 2564.5,391.2 2565.2,411.5 2568.2,526.8 2569.0,582.0 2571.5,408.8 2572.2,431.3 2573.8,516.2 2574.5,575.8 2576.5,447.5 2581.2,484.4 2582.0,509.5 2584.0,383.0 2584.8,424.2 2586.8,448.8 2588.8,407.6 2589.5,374.5 2591.4,446.2 2593.2,436.2 2596.2,506.4 2597.0,552.0 2598.2,455.0 2601.4,466.6 2604.5,441.2 2607.0,470.4 2609.5,430.5 2611.0,460.9 2612.5,433.8 2614.5,530.8 2615.2,507.7 2616.8,437.8 2617.5,425.0 2619.3,474.0 2623.5,449.1 2625.2,546.2 2626.0,514.6 2628.0,476.2 2630.8,486.2 2632.0,451.2 2634.1,482.2 2636.2,374.5 2638.8,500.0 2641.0,468.0 2643.2,485.0 2645.5,416.3 2646.2,369.5 2647.0,415.3 2648.2,489.8 2649.0,505.0 2649.8,488.2 2651.8,442.6 2653.8,513.5 2654.5,544.5 2657.0,409.5 2659.1,458.6 2661.2,404.5 2662.0,424.5 2665.2,482.5 2669.5,450.5 2674.0,473.8 2676.5,378.8 2677.8,442.5 2679.0,370.5 2679.8,403.1 2682.4,465.3 2685.8,430.0 2688.2,513.5 2689.0,542.0 2689.8,518.0 2691.2,423.1 2692.0,393.0 2694.5,607.0 2697.0,420.0 2697.8,442.3 2699.8,575.0" stroke="#000" stroke-width="4.5"/>
</g>
<rect x="375.5" y="108.6" width="2325.1" height="692.8" fill="none" stroke="#000" stroke-width="3.3"/>
<line x1="503.5" y1="801.4" x2="503.5" y2="816.9" stroke="#000" stroke-width="3.3"/>
<line x1="1014.5" y1="801.4" x2="1014.5" y2="816.9" stroke="#000" stroke-width="3.3"/>
<line x1="1525.5" y1="801.4" x2="1525.5" y2="816.9" stroke="#000" stroke-width="3.3"/>
<line x1="2036.5" y1="801.4" x2="2036.5" y2="816.9" stroke="#000" stroke-width="3.3"/>
<line x1="2547.5" y1="801.4" x2="2547.5" y2="816.9" stroke="#000" stroke-width="3.3"/>
<line x1="360.0" y1="128.0" x2="375.5" y2="128.0" stroke="#000" stroke-width="3.3"/>
<line x1="360.0" y1="242.7" x2="375.5" y2="242.7" stroke="#000" stroke-width="3.3"/>
<line x1="360.0" y1="357.4" x2="375.5" y2="357.4" stroke="#000" stroke-width="3.3"/>
<line x1="360.0" y1="472.0" x2="375.5" y2="472.0" stroke="#000" stroke-width="3.3"/>
<line x1="360.0" y1="586.6" x2="375.5" y2="586.6" stroke="#000" stroke-width="3.3"/>
<line x1="360.0" y1="701.3" x2="375.5" y2="701.3" stroke="#000" stroke-width="3.3"/>
</svg>
<div class="t" id="title">Spectrum of object 15638 in candels-cdfs-42</div>
<div class="t xt" style="left:403.7px">5000</div>
<div class="t xt" style="left:914.7px">6000</div>
<div class="t xt" style="left:1425.7px">7000</div>
<div class="t xt" style="left:1936.7px">8000</div>
<div class="t xt" style="left:2447.7px">9000</div>
<div class="t yt" style="left:145.0px;top:110.8px">1.5</div>
<div class="t yt" style="left:145.0px;top:225.5px">1.0</div>
<div class="t yt" style="left:145.0px;top:340.2px">0.5</div>
<div class="t yt" style="left:145.0px;top:454.8px">0.0</div>
<div class="t yt" style="left:145.0px;top:569.4px"><span class="mn"><i>−</i></span>0.5</div>
<div class="t yt" style="left:145.0px;top:684.1px"><span class="mn"><i>−</i></span>1.0</div>
<div class="t" id="xl">Wavelength</div>
<div class="t" id="yl">10<sup><i>−</i>18</sup> erg s<sup><i>−</i>1</sup> cm<sup><i>−</i>2</sup> Å<sup><i>−</i>1</sup></div>
</body></html>
